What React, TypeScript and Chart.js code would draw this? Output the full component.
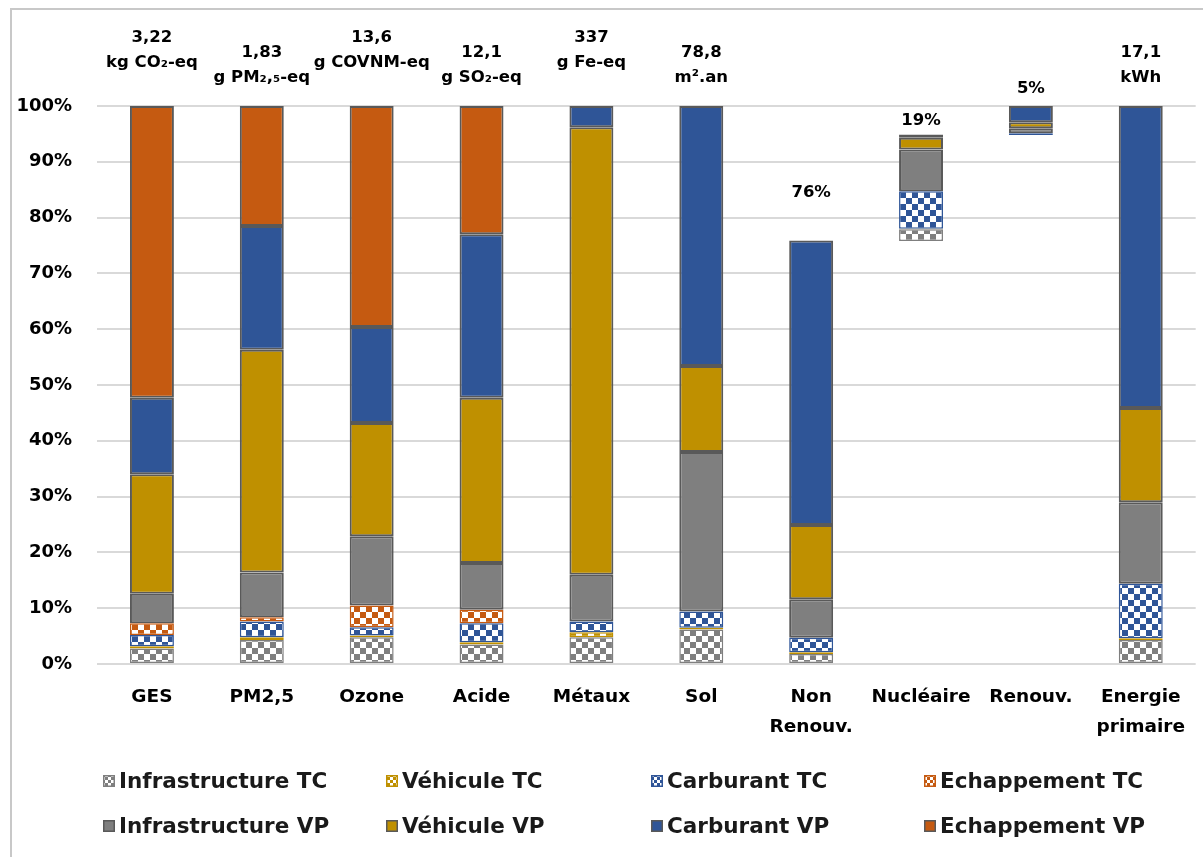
import React, { useEffect, useRef } from "react";
import { Chart, registerables } from "chart.js";

Chart.register(...registerables);

const categories: (string | string[])[] = ["GES", "PM2,5", "Ozone", "Acide", "Métaux", "Sol", ["Non", "Renouv."], "Nucléaire", "Renouv.", ["Energie", "primaire"]];
const base = [0, 0, 0, 0, 0, 0, 0, 75.8, 94.8, 0];
const infraTC = [2.8, 4.3, 4.8, 3.5, 4.8, 6.2, 1.8, 2.1, 0, 4.3];
const vehTC = [0.4, 0.5, 0.3, 0.4, 0.9, 0.3, 0.3, 0.1, 0, 0.3];
const carbTC = [2.0, 2.8, 1.5, 3.4, 1.9, 2.9, 2.6, 6.7, 0.3, 9.8];
const echTC = [2.1, 0.8, 3.9, 2.4, 0, 0, 0, 0, 0, 0];
const infraVP = [5.3, 8.0, 12.4, 8.4, 8.4, 28.6, 6.9, 7.5, 0.9, 14.6];
const vehVP = [21.4, 39.9, 20.3, 29.6, 80.2, 15.4, 13.3, 2.1, 1.1, 16.9];
const carbVP = [13.7, 22.2, 17.2, 29.3, 3.8, 46.6, 51.0, 0.6, 2.9, 54.1];
const echVP = [52.3, 21.5, 39.6, 23.0, 0, 0, 0, 0, 0, 0];
const topLabels: string[][] = [
  ["3,22", "kg CO₂-eq"],
  ["1,83", "g PM₂,₅-eq"],
  ["13,6", "g COVNM-eq"],
  ["12,1", "g SO₂-eq"],
  ["337", "g Fe-eq"],
  ["78,8", "m².an"],
  ["76%"],
  ["19%"],
  ["5%"],
  ["17,1", "kWh"],
];
const yTicks = [0, 10, 20, 30, 40, 50, 60, 70, 80, 90, 100];

// layout / style constants
const labelLift = [43, 28, 43, 28, 43, 28, 48, 14, 17, 28];
const GREY = "#7f7f7f";
const GOLD = "#bf9000";
const BLUE = "#2f5597";
const ORANGE = "#c55a11";
const EDGE = "#595959";
const FONT = "DejaVu Sans";

function checker(color: string, sq: number): CanvasPattern | string {
  const c = document.createElement("canvas");
  c.width = sq * 2;
  c.height = sq * 2;
  const x = c.getContext("2d");
  if (!x) return color;
  x.fillStyle = "#ffffff";
  x.fillRect(0, 0, sq * 2, sq * 2);
  x.fillStyle = color;
  x.fillRect(0, 0, sq, sq);
  x.fillRect(sq, sq, sq, sq);
  const p = x.createPattern(c, "repeat");
  return p || color;
}

export default function App() {
  const ref = useRef<HTMLCanvasElement>(null);
  useEffect(() => {
    if (!ref.current) return;
    const series = [
      { label: "Infrastructure TC", data: infraTC, color: GREY, tc: true },
      { label: "Véhicule TC", data: vehTC, color: GOLD, tc: true },
      { label: "Carburant TC", data: carbTC, color: BLUE, tc: true },
      { label: "Echappement TC", data: echTC, color: ORANGE, tc: true },
      { label: "Infrastructure VP", data: infraVP, color: GREY, tc: false },
      { label: "Véhicule VP", data: vehVP, color: GOLD, tc: false },
      { label: "Carburant VP", data: carbVP, color: BLUE, tc: false },
      { label: "Echappement VP", data: echVP, color: ORANGE, tc: false },
    ];
    const datasets: any[] = [
      {
        label: "base",
        data: base,
        backgroundColor: "rgba(0,0,0,0)",
        borderWidth: 0,
        stack: "s",
      },
      ...series.map((s) => ({
        label: s.label,
        data: s.data,
        backgroundColor: s.tc ? checker(s.color, 6) : s.color,
        borderColor: s.tc ? s.color : EDGE,
        borderWidth: (ctx: any) => (ctx.raw ? (s.tc ? 1.5 : 2) : 0),
        borderSkipped: false,
        stack: "s",
      })),
    ];

    const totals = categories.map((_, i) =>
      [base, ...series.map((s) => s.data)].reduce((a, arr) => a + arr[i], 0)
    );

    const frame = {
      id: "frame",
      beforeDraw(chart: any) {
        const c = chart.ctx;
        c.save();
        c.strokeStyle = "#c8c8c8";
        c.lineWidth = 2;
        c.beginPath();
        c.moveTo(11, chart.height);
        c.lineTo(11, 9);
        c.lineTo(chart.width, 9);
        c.stroke();
        c.restore();
      },
    };

    const tops = {
      id: "tops",
      afterDatasetsDraw(chart: any) {
        const c = chart.ctx;
        const xs = chart.scales.x;
        const ys = chart.scales.y;
        c.save();
        c.fillStyle = "#000";
        c.textAlign = "center";
        c.textBaseline = "middle";
        c.font = `bold 16.5px "${FONT}"`;
        topLabels.forEach((lines, i) => {
          const x = xs.getPixelForValue(i);
          const yTop = ys.getPixelForValue(totals[i]);
          const last = yTop - labelLift[i];
          lines.forEach((t, k) => {
            const y = last - (lines.length - 1 - k) * 25;
            c.fillText(t, x, y);
          });
        });
        c.restore();
      },
    };

    const legend = {
      id: "customLegend",
      afterDraw(chart: any) {
        const c = chart.ctx;
        const colX = [103, 386, 651, 924];
        const rowY = [781, 826];
        c.save();
        c.textBaseline = "middle";
        c.textAlign = "left";
        c.font = `bold 21.5px "${FONT}"`;
        series.forEach((s, i) => {
          const col = i % 4;
          const row = Math.floor(i / 4);
          const bx = colX[col];
          const by = rowY[row];
          if (s.tc) {
            c.fillStyle = checker(s.color, 3);
            c.fillRect(bx, by - 6, 12, 12);
            c.strokeStyle = s.color;
          } else {
            c.fillStyle = s.color;
            c.fillRect(bx, by - 6, 12, 12);
            c.strokeStyle = EDGE;
          }
          c.lineWidth = 1.5;
          c.strokeRect(bx + 0.75, by - 5.25, 10.5, 10.5);
          c.fillStyle = "#1a1a1a";
          c.fillText(s.label, bx + 16, by + 1);
        });
        c.restore();
      },
    };

    const chart = new Chart(ref.current, {
      type: "bar",
      data: { labels: categories as any, datasets },
      options: {
        animation: false,
        responsive: true,
        maintainAspectRatio: false,
        layout: { padding: { top: 106, right: 0, bottom: 0, left: 0 } },
        plugins: {
          legend: { display: false },
          tooltip: { enabled: false },
        },
        datasets: { bar: { barPercentage: 0.4, categoryPercentage: 1 } },
        scales: {
          x: {
            stacked: true,
            grid: { display: false, drawTicks: false },
            border: { display: false },
            ticks: {
              padding: 18,
              color: "#000",
              maxRotation: 0,
              autoSkip: false,
              font: { family: FONT, size: 18.5, weight: "bold", lineHeight: "30px" } as any,
            },
            afterFit: (s: any) => {
              s.height = 193;
            },
          },
          y: {
            stacked: true,
            min: 0,
            max: 100,
            afterBuildTicks: (s: any) => {
              s.ticks = yTicks.map((v) => ({ value: v }));
            },
            grid: { color: "#d9d9d9", lineWidth: 2, drawTicks: false },
            border: { display: false },
            ticks: {
              padding: 25,
              color: "#000",
              font: { family: FONT, size: 18, weight: "bold" },
              callback: (v: any) => v + "%",
            },
            afterFit: (s: any) => {
              s.width = 97;
            },
          },
        },
      },
      plugins: [frame, tops, legend],
    });
    return () => chart.destroy();
  }, []);

  return (
    <div style={{ position: "fixed", left: 0, top: 0, width: 1203, height: 857, background: "#fff" }}>
      <canvas ref={ref} />
    </div>
  );
}
